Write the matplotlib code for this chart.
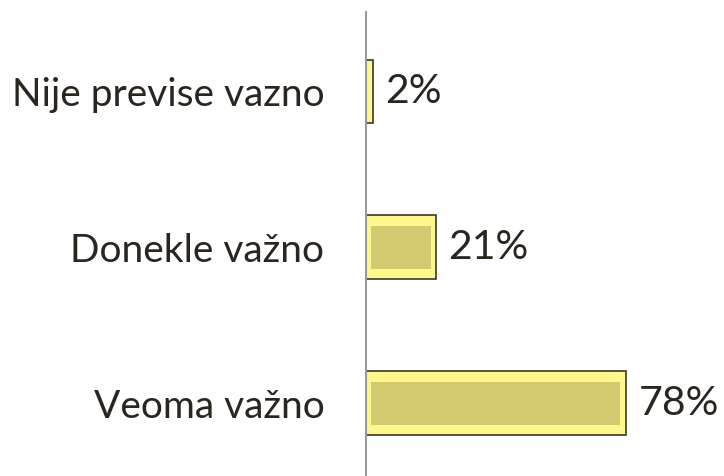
import matplotlib
matplotlib.use('Agg')
import matplotlib.pyplot as plt

categories = ['Veoma važno', 'Donekle važno', 'Nije previse vazno']
values = [78, 21, 2]
value_labels = ['78%', '21%', '2%']

plt.rcParams['font.family'] = ['Lato', 'DejaVu Sans']
txt = '#2a251f'

fig = plt.figure(figsize=(7.24, 4.76), dpi=100)
ax = fig.add_axes([366 / 724, 0, 358 / 724, 464 / 476])

pos = [0, 1, 2]
h = 0.41
# outer (light) bar with dark edge
ax.barh(pos, values, height=h, color='#fff68c', edgecolor='#3b3628', linewidth=1.2, zorder=2)
# inner darker face to mimic the bevel
inset_x = 1.6
inset_y = 0.065
inner_w = [max(v - 2 * inset_x, 0) for v in values]
ax.barh(pos, inner_w, left=inset_x, height=h - 2 * inset_y, color='#d3c96e', linewidth=0, zorder=3)

for p, v, lab in zip(pos, values, value_labels):
    ax.text(v + 3.8, p, lab, va='center', ha='left', fontsize=29.5, color=txt)

ax.set_xlim(0, 107.5)
ax.set_ylim(-0.466, 2.51)
ax.set_yticks(pos)
ax.set_yticklabels(categories, fontsize=28, color=txt)
ax.tick_params(axis='y', length=0, pad=30)
ax.set_xticks([])
for s in ['top', 'right', 'bottom']:
    ax.spines[s].set_visible(False)
ax.spines['left'].set_color('#9a9a9a')
ax.spines['left'].set_linewidth(1.5)

fig.savefig('out.png', dpi=100)
